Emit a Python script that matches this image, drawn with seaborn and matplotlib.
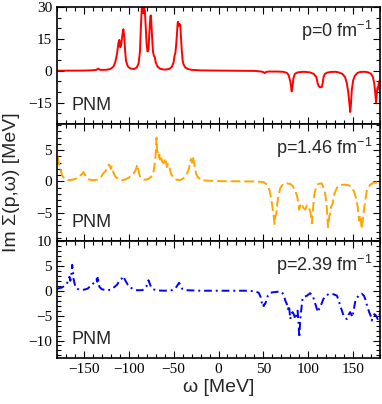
import matplotlib
matplotlib.use("Agg")
import matplotlib.pyplot as plt
from matplotlib.ticker import MultipleLocator
import numpy as np
import seaborn as sns

sns.set_theme(style="ticks")
plt.rcParams["font.family"] = ["Liberation Sans", "DejaVu Sans"]
plt.rcParams["mathtext.fontset"] = "custom"
plt.rcParams["mathtext.rm"] = "Liberation Sans"

# p = 0 fm^-1  (red, solid)
omega_p0 = [-180, -150, -140, -136, -134, -132, -125, -120, -117, -115, -113, -111.5, -110.5, -109.5, -108.5,
            -107, -106, -105, -104, -103, -101, -98, -94, -91, -89, -87.5, -86.5, -85.5, -84.5, -83.8, -83,
            -82, -81, -80, -79, -78, -77, -76, -75.5, -75, -74, -73, -72, -71, -70, -68, -65, -60, -55, -52,
            -50, -49, -48, -47, -46, -45.5, -45, -44.5, -43.5, -42.5, -42, -41, -40, -39, -37, -34, -30, -20,
            0, 40, 48, 50, 51.5, 53, 56, 65, 72, 76, 78, 80, 81.5, 82.5, 83.5, 85, 88, 95, 102, 106, 109,
            110.5, 112, 113.5, 115, 116, 117, 118.5, 121, 125, 130, 134, 138, 141, 143, 144.5, 146, 146.7,
            147.5, 148.5, 150, 152, 155, 158, 163, 167, 170, 172, 173.5, 174.5, 175.5, 176.3, 177, 178,
            178.8, 179.5, 180]
sigma_p0 = [0.0, 0.05, 0.2, 0.4, 1.0, 0.4, 0.4, 0.9, 2.0, 4.0, 8.0, 13.0, 14.5, 11.0, 12.0,
            17.0, 19.5, 16.0, 9.0, 4.5, 2.0, 1.0, 0.8, 1.5, 3.5, 9.0, 20.0, 29.5, 30.5, 27.0, 31.0,
            28.0, 20.0, 12.0, 9.0, 10.0, 18.0, 25.0, 26.0, 24.0, 16.0, 9.0, 7.0, 6.5, 4.0, 2.0, 0.9, 0.5, 0.8, 1.8,
            4.0, 7.0, 8.5, 13.0, 19.0, 22.5, 23.0, 21.0, 22.0, 21.5, 17.0, 10.0, 5.0, 3.0, 1.5, 0.8, 0.4, 0.15,
            0.05, -0.1, -0.4, -0.7, -1.1, -0.6, -0.4, -0.4, -0.5, -1.0, -2.0, -5.0, -9.7, -7.0, -3.5, -1.5, -0.8, -0.5, -0.8, -1.5, -3.0,
            -6.0, -7.5, -7.8, -7.6, -6.0, -3.0, -1.5, -0.9, -0.6, -0.5, -0.8, -1.5, -3.0, -6.0, -10.0, -16.0, -19.4,
            -16.0, -9.0, -4.5, -2.3, -1.0, -0.6, -0.5, -0.8, -1.5, -3.0, -6.0, -10.0, -14.8, -11.0, -8.0, -7.4,
            -5.0, -9.0, -7.0]

# p = 1.46 fm^-1  (orange, dashed)
omega_p146 = [-180, -179, -178, -176, -174, -171, -167, -162, -158, -155, -152, -150.5, -149, -147, -144, -140,
              -135, -131, -128.5, -126, -124, -122, -121, -120, -119, -118, -117, -115, -112, -108, -104, -100,
              -97, -94, -92, -90.5, -89.5, -88, -86, -83, -80, -77, -74, -72, -70.5, -69.5, -69, -68.5, -67.5,
              -66.5, -66, -65, -64, -63, -62, -60.5, -59.5, -58.5, -57.5, -56, -55, -54, -52.5, -50, -47, -43,
              -40, -37, -35, -33, -31.5, -30.5, -29.5, -28.5, -27.5, -26.5, -25, -23, -20, -15, 0, 40, 50, 54,
              57, 59, 61, 62.5, 63.5, 64.4, 65.5, 67, 69, 72, 76, 80, 83, 85.5, 87.5, 89, 90, 91, 92, 93.5, 95,
              96.7, 98.5, 100.5, 102.5, 104, 105.5, 106.7, 108.5, 111, 115, 117, 119, 120.5, 122, 123.5, 124.4,
              125.5, 127, 129, 132, 135, 140, 145, 148, 151, 153, 155, 156.7, 158, 159.6, 161, 162.5, 165, 169,
              173, 178, 180]
sigma_p146 = [4.0, 3.9, 3.0, 1.8, 0.9, 0.4, 0.2, 0.3, 0.5, 0.8, 1.2, 1.5, 1.1, 0.6, 0.3, 0.2,
              0.3, 0.7, 1.3, 1.6, 2.2, 2.7, 2.5, 2.0, 2.4, 2.1, 1.4, 0.8, 0.4, 0.2, 0.3, 0.6,
              1.0, 1.4, 1.9, 2.7, 2.0, 1.0, 0.5, 0.3, 0.3, 0.5, 0.9, 1.8, 3.5, 5.5, 7.0, 5.0, 4.5,
              3.8, 4.3, 3.5, 4.0, 3.3, 3.0, 3.0, 3.7, 3.2, 2.3, 2.8, 2.6, 1.8, 1.1, 0.6, 0.3, 0.2,
              0.4, 0.8, 1.3, 2.0, 3.2, 3.6, 3.0, 4.0, 3.2, 2.4, 1.2, 0.7, 0.3, 0.15, 0.05, 0.0, -0.1, -0.5,
              -1.5, -3.0, -5.0, -6.8, -5.5, -5.2, -3.5, -2.1, -1.0, -0.4, -0.3, -0.4, -0.8, -1.5, -2.3, -3.5, -4.5, -3.8, -4.2, -3.9, -4.3,
              -4.5, -3.8, -4.1, -5.0, -6.7, -4.0, -2.1, -1.0, -0.4, -0.3, -1.0, -2.1, -4.0, -7.3, -5.5, -5.2,
              -4.0, -3.6, -2.0, -1.0, -0.6, -0.5, -0.6, -0.9, -1.6, -2.6, -4.0, -6.3, -5.4, -7.6, -5.8, -4.0, -1.6, -0.5,
              -0.2, -0.1, 0.0]

# p = 2.39 fm^-1  (blue, dash-dot)
omega_p239 = [-180, -178, -175, -172, -169, -167, -166, -165, -164, -163, -162, -161.5, -160, -158.5, -155, -150,
              -146, -143.7, -141, -138, -136, -135, -134.4, -133.5, -132.6, -130, -125, -120, -116, -113, -110,
              -107.5, -106, -104.5, -103, -101, -99, -95, -92, -85, -82, -80.5, -79, -78, -77, -75, -73, -68,
              -60, -52, -48, -46, -44, -43, -41.5, -40, -35, -20, 0, 30, 40, 44.8, 47, 48.5, 49.5, 50.4, 51.2,
              52, 53.5, 55, 58, 61.5, 66, 70.7, 73, 74.4, 76, 77.4, 78.5, 80, 81, 82.6, 84, 85.6, 87, 88.1, 89,
              90, 91, 91.9, 93, 93.7, 96, 98.5, 102, 105, 107.8, 109.2, 110.7, 112, 113.3, 115, 117, 120, 124.4,
              128, 131.9, 134, 135.6, 137.5, 139.3, 141, 143, 145, 146.7, 148, 149.3, 150.5, 152.2, 154, 156,
              159.6, 162, 163.3, 165.5, 167.8, 169.5, 170.7, 172, 173.7, 175.5, 177.4, 179, 180]
sigma_p239 = [0.3, 0.5, 0.6, 0.9, 1.4, 2.2, 2.8, 2.0, 3.0, 5.2, 4.0, 2.4, 1.2, 0.5, 0.2, 0.2,
              0.4, 0.75, 1.1, 1.8, 2.3, 1.8, 2.9, 1.5, 0.75, 0.3, 0.1, 0.2, 0.75, 1.2, 2.1,
              2.5, 2.9, 2.3, 1.8, 1.2, 0.75, 0.3, 0.1, 0.1, 0.4, 0.8, 1.5, 2.1, 1.6, 0.7, 0.3, 0.05,
              0.0, 0.1, 0.5, 1.0, 1.6, 1.3, 0.7, 0.3, 0.1, 0.0, 0.0, 0.0, -0.1, -0.4, -1.3, -2.65, -2.4, -3.1, -2.7,
              -2.65, -1.8, -1.0, -0.4, -0.3, -0.2, -0.3, -1.0, -2.0, -2.6, -3.7, -3.0, -5.7, -4.6, -4.3, -4.8, -5.7, -4.8, -4.0, -6.0,
              -9.4, -6.0, -4.3, -2.5, -1.4, -1.2, -1.0, -0.5, -1.0, -2.65, -3.5, -4.3, -3.7, -3.3, -2.5, -1.6, -0.9, -0.6,
              -0.7, -1.0, -2.0, -3.0, -4.0, -5.0, -5.4, -5.7, -4.8, -4.3, -4.8, -5.3, -4.0, -2.3, -1.5, -1.0,
              -0.6, -1.0, -1.6, -3.0, -4.3, -5.0, -6.0, -5.2, -4.7, -5.0, -5.7, -5.0, -4.5]

panel_labels = ["p=0 fm$^{-1}$", "p=1.46 fm$^{-1}$", "p=2.39 fm$^{-1}$"]
x_ticks = [-150, -100, -50, 0, 50, 100, 150]

series = [(omega_p0, sigma_p0, "#ff0000", "-"),
          (omega_p146, sigma_p146, "#ffa500", (0, (5, 2))),
          (omega_p239, sigma_p239, "#0000ff", (0, (4, 2, 1, 2)))]
ylims = [(-25, 30), (-9.5, 9.2), (-13.5, 10)]
yticks = [[-15, 0, 15, 30], [-5, 0, 5], [-10, -5, 0, 5, 10]]
yminor = [5, 1, 1]

fig, axes = plt.subplots(3, 1, figsize=(3.82, 4.04), dpi=100, sharex=True)
fig.subplots_adjust(left=0.149, right=0.995, top=0.983, bottom=0.114, hspace=0)

tick_font = dict(family=["Liberation Serif", "DejaVu Serif"], size=11)

for i, ax in enumerate(axes):
    om, sig, col, ls = series[i]
    sns.lineplot(x=om, y=sig, ax=ax, color=col, linestyle=ls, linewidth=1.4, estimator=None, sort=False)
    ax.set_xlim(-180, 180)
    ax.set_ylim(*ylims[i])
    ax.set_yticks(yticks[i])
    ax.yaxis.set_minor_locator(MultipleLocator(yminor[i]))
    ax.xaxis.set_major_locator(MultipleLocator(50))
    ax.xaxis.set_minor_locator(MultipleLocator(10))
    ax.tick_params(which="both", direction="in", top=True, right=True, width=0.8, colors="black")
    ax.tick_params(which="major", length=5)
    ax.tick_params(which="minor", length=2.8)
    for lab in ax.get_yticklabels():
        lab.set_fontfamily(tick_font["family"])
        lab.set_fontsize(tick_font["size"])
    for s in ax.spines.values():
        s.set_linewidth(1.2)
        s.set_color("black")
    ax.set_ylabel("")
    ax.text(0.046, 0.12, "PNM", transform=ax.transAxes, fontsize=13, va="baseline", ha="left")
    ax.text(0.975, 0.90, panel_labels[i], transform=ax.transAxes, fontsize=13, va="top", ha="right")

axes[2].set_xticks(x_ticks)
for lab in axes[2].get_xticklabels():
    lab.set_fontfamily(tick_font["family"])
    lab.set_fontsize(tick_font["size"])
axes[2].set_xlabel("ω [MeV]", fontsize=14, labelpad=2)
fig.text(0.03, 0.55, "Im Σ(p,ω) [MeV]", rotation=90, fontsize=14, va="center", ha="center")

fig.savefig("out.png", dpi=100)
